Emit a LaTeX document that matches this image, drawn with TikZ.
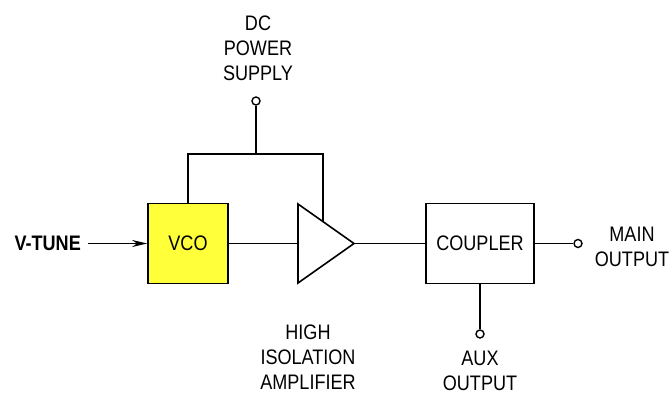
\documentclass[tikz,border=0pt]{standalone}
\usepackage{fontspec}
\setmainfont{Liberation Sans}[FakeStretch=0.86]
\usetikzlibrary{arrows.meta}
\definecolor{vcofill}{HTML}{FFFF3A}

\tikzset{
  block/.style={draw,line width=1.8pt,minimum height=80pt,inner sep=0pt},
  wire/.style={line width=1.6pt},
  pin/.style={draw,circle,line width=1.4pt,minimum size=8pt,inner sep=0pt,fill=white},
  tag/.style={align=center,font=\fontsize{21}{25}\selectfont,inner sep=0pt}
}

\begin{document}
\begin{tikzpicture}[x=1pt,y=-1pt]
  \useasboundingbox (0,0) rectangle (669,396);
  % blocks
  \node[block,fill=vcofill,minimum width=80pt,font=\fontsize{21}{25}\selectfont] (vco) at (188,243.5) {VCO};
  \node[block,minimum width=108pt,font=\fontsize{21}{25}\selectfont] (coupler) at (480,243.5) {COUPLER};
  % amplifier
  \coordinate (ampin) at (298,243.5);
  \coordinate (ampout) at (354,243.5);
  \coordinate (ampfeed) at (323,221.5);
  \draw[line width=1.6pt,line join=miter] (298,204) -- (ampout) -- (298,283) -- cycle;
  % terminals
  \node[pin] (dcpin) at (256,101) {};
  \node[pin] (mainpin) at (578,243.5) {};
  \node[pin] (auxpin) at (480,334) {};
  \coordinate (dcjoin) at (256,154);
  % labels
  \node[tag,font=\bfseries\fontsize{21}{25}\selectfont,anchor=east] (vtune) at (81,243.5) {V-TUNE};
  \node[tag] (dclabel) at (258,48) {DC\\POWER\\SUPPLY};
  \node[tag] (amplabel) at (308,357) {HIGH\\ISOLATION\\AMPLIFIER};
  \node[tag] (auxlabel) at (480,371) {AUX\\OUTPUT};
  \node[tag] (mainlabel) at (632,247) {MAIN\\OUTPUT};
  % connections
  \draw[wire,-{Stealth[length=15pt,width=7pt]}] (vtune.east) ++(7pt,0) -- (vco.west);
  \draw[wire] (vco.east) -- (ampin);
  \draw[wire] (ampout) -- (coupler.west);
  \draw[wire] (coupler.east) -- (mainpin);
  \draw[wire] (coupler.south) -- (auxpin);
  \draw[wire] (dcpin) -- (dcjoin);
  \draw[wire] (vco.north) |- (dcjoin) -| (ampfeed);
\end{tikzpicture}
\end{document}
